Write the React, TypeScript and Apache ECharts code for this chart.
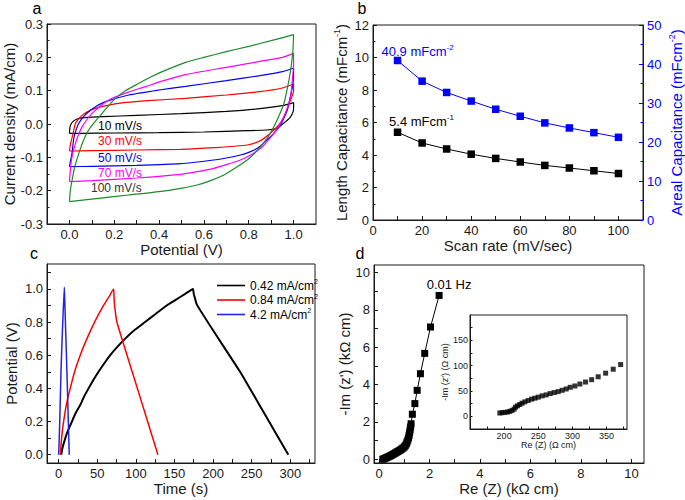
import React, { useEffect, useRef } from "react";
import * as echarts from "echarts";

const FONT = "'Liberation Sans', Arial, Helvetica, sans-serif";
const INK = "#1a1a1a";

// ---------- Panel a : cyclic voltammetry (Potential V, Current density mA/cm)
const cvNames = ["10 mV/s", "30 mV/s", "50 mV/s", "70 mV/s", "100 mV/s"];
const cvColors = ["#000000", "#ff0000", "#0000ff", "#ff00ff", "#1d8a2a"];
const cvLabelColors = ["#000000", "#ff0000", "#0000ff", "#ff00ff", "#333333"];
const cv10 = [
  [0, -0.028], [0.003, -0.008], [0.012, 0.005], [0.034, 0.015], [0.07, 0.019], [0.15, 0.022],
  [0.3, 0.026], [0.5, 0.031], [0.7, 0.038], [0.85, 0.046], [0.95, 0.055], [1.0, 0.064],
  [1.0, 0.05], [0.998, 0.037], [0.985, 0.02], [0.964, 0.007], [0.94, -0.006], [0.927, -0.013],
  [0.88, -0.018], [0.793, -0.02], [0.6, -0.024], [0.4, -0.026], [0.2, -0.027], [0.05, -0.028], [0, -0.028],
];
const cv30 = [
  [0, -0.081], [0.005, -0.06], [0.014, -0.035], [0.027, 0.002], [0.045, 0.018], [0.064, 0.03],
  [0.1, 0.043], [0.131, 0.05], [0.22, 0.062], [0.35, 0.07], [0.518, 0.077], [0.7, 0.087],
  [0.85, 0.097], [0.95, 0.108], [1.0, 0.12],
  [1.0, 0.1], [0.995, 0.087], [0.98, 0.06], [0.957, 0.022], [0.935, -0.002], [0.912, -0.018],
  [0.88, -0.037], [0.853, -0.05], [0.793, -0.063], [0.644, -0.071], [0.496, -0.076], [0.3, -0.078],
  [0.1, -0.08], [0, -0.081],
];
const cv50 = [
  [0, -0.128], [0.005, -0.11], [0.012, -0.085], [0.019, -0.045], [0.03, -0.017], [0.042, 0.002],
  [0.06, 0.02], [0.086, 0.037], [0.12, 0.053], [0.161, 0.067], [0.265, 0.087], [0.4, 0.102],
  [0.518, 0.113], [0.7, 0.13], [0.85, 0.145], [0.95, 0.157], [1.0, 0.168],
  [1.0, 0.14], [0.995, 0.112], [0.985, 0.08], [0.972, 0.042], [0.957, 0.018], [0.942, -0.003],
  [0.92, -0.022], [0.897, -0.038], [0.868, -0.056], [0.838, -0.073], [0.8, -0.085], [0.763, -0.093],
  [0.7, -0.102], [0.644, -0.108], [0.496, -0.119], [0.3, -0.124], [0.1, -0.127], [0, -0.128],
];
const cv70 = [
  [0, -0.173], [0.004, -0.14], [0.009, -0.108], [0.018, -0.08], [0.027, -0.058], [0.04, -0.033],
  [0.057, -0.008], [0.08, 0.015], [0.101, 0.032], [0.14, 0.055], [0.19, 0.077], [0.26, 0.095],
  [0.339, 0.112], [0.42, 0.13], [0.518, 0.148], [0.7, 0.17], [0.85, 0.188], [0.95, 0.2], [1.0, 0.212],
  [1.0, 0.18], [0.997, 0.152], [0.987, 0.082], [0.973, 0.05], [0.957, 0.022], [0.935, -0.005],
  [0.912, -0.028], [0.885, -0.05], [0.853, -0.073], [0.81, -0.092], [0.763, -0.108], [0.7, -0.122],
  [0.644, -0.133], [0.57, -0.143], [0.496, -0.151], [0.3, -0.162], [0.1, -0.17], [0, -0.173],
];
const cv100 = [
  [0, -0.233], [0.004, -0.2], [0.012, -0.168], [0.025, -0.125], [0.042, -0.088], [0.062, -0.05],
  [0.086, -0.018], [0.115, 0.008], [0.146, 0.032], [0.175, 0.055], [0.205, 0.077], [0.25, 0.1],
  [0.31, 0.122], [0.36, 0.14], [0.414, 0.157], [0.518, 0.185], [0.6, 0.2], [0.7, 0.217],
  [0.8, 0.233], [0.9, 0.25], [1.0, 0.268],
  [0.997, 0.22], [0.987, 0.162], [0.973, 0.11], [0.957, 0.062], [0.935, 0.025], [0.912, -0.008],
  [0.885, -0.04], [0.853, -0.068], [0.823, -0.09], [0.793, -0.108], [0.74, -0.132], [0.689, -0.153],
  [0.63, -0.17], [0.57, -0.183], [0.496, -0.193], [0.4, -0.203], [0.265, -0.213], [0.13, -0.223], [0, -0.233],
];
const cvData = [cv10, cv30, cv50, cv70, cv100];
const cvXTicks = [0, 0.1, 0.2, 0.3, 0.4, 0.5, 0.6, 0.7, 0.8, 0.9, 1.0];
const cvXLabels = [0, 0.2, 0.4, 0.6, 0.8, 1.0];

// ---------- Panel b : capacitance vs scan rate
const scanRates = [10, 20, 30, 40, 50, 60, 70, 80, 90, 100];
const lengthCap = [5.4, 4.74, 4.37, 4.05, 3.79, 3.57, 3.36, 3.2, 3.03, 2.86];
const arealCap = [40.9, 35.6, 32.7, 30.5, 28.4, 26.6, 24.9, 23.6, 22.4, 21.2];
const bXTicks = [0, 10, 20, 30, 40, 50, 60, 70, 80, 90, 100];
const bXLabels = [0, 20, 40, 60, 80, 100];

// ---------- Panel c : galvanostatic charge / discharge
const gcdNames = ["0.42 mA/cm2", "0.84 mA/cm2", "4.2 mA/cm2"];
const gcdColors = ["#000000", "#ff0000", "#2323e6"];
const gcd042 = [
  [3.5, 0], [5, 0.04], [8.7, 0.1], [12.5, 0.15], [17.3, 0.2], [22, 0.25], [28, 0.3], [33, 0.35],
  [38.8, 0.4], [45, 0.45], [51.7, 0.5], [59, 0.55], [66.9, 0.6], [76, 0.65], [86.3, 0.7], [98, 0.75],
  [112, 0.8], [126, 0.85], [140, 0.9], [152, 0.935], [164, 0.97], [173.9, 1.0],
  [175, 0.97], [176.5, 0.945], [179, 0.905], [200, 0.75], [235, 0.5], [265, 0.26], [297.5, 0],
];
const gcd084 = [
  [2.2, 0], [3.5, 0.08], [5, 0.15], [6.5, 0.2], [10, 0.3], [15.1, 0.4], [20.7, 0.5], [28, 0.6],
  [36.7, 0.7], [46.6, 0.8], [58.2, 0.9], [65, 0.95], [71.2, 1.0],
  [71.8, 0.95], [72.5, 0.9], [75.5, 0.8], [102, 0.4], [128.6, 0],
];
const gcd42 = [
  [0, 0], [0.5, 0.05], [1.5, 0.2], [3.1, 0.5], [5, 0.75], [7.4, 1.01], [8, 0.93], [10.8, 0.5], [13.8, 0],
];
const gcdData = [gcd042, gcd084, gcd42];
const cXTicks = [0, 25, 50, 75, 100, 125, 150, 175, 200, 225, 250, 275, 300, 325];
const cXLabels = [0, 50, 100, 150, 200, 250, 300];
const cYTicks = [0, 0.1, 0.2, 0.3, 0.4, 0.5, 0.6, 0.7, 0.8, 0.9, 1.0, 1.1];
const cYLabels = [0, 0.2, 0.4, 0.6, 0.8, 1.0];

// ---------- Panel d : Nyquist plot
const eisRe = [0.15, 0.2, 0.25, 0.3, 0.35, 0.4, 0.45, 0.5, 0.55, 0.6, 0.65, 0.7, 0.75, 0.8, 0.85, 0.9, 0.95, 1.0,
  1.04, 1.08, 1.11, 1.14, 1.17, 1.19, 1.21, 1.23, 1.25, 1.27, 1.32, 1.42, 1.51, 1.64, 1.81, 2.04, 2.38];
const eisIm = [0.0, 0.03, 0.06, 0.09, 0.12, 0.15, 0.19, 0.22, 0.26, 0.3, 0.34, 0.38, 0.42, 0.46, 0.5, 0.55, 0.6, 0.66,
  0.73, 0.82, 0.92, 1.03, 1.15, 1.28, 1.42, 1.57, 1.73, 1.9, 2.41, 2.98, 3.69, 4.58, 5.67, 7.08, 8.77];
const dTicks = [0, 1, 2, 3, 4, 5, 6, 7, 8, 9, 10];
const dLabels = [0, 2, 4, 6, 8, 10];
const insetRe = [193.7, 197, 201, 205, 208.4, 211.7, 214.7, 216.7, 219.6, 223, 226.4, 230.4, 235.2, 240.2, 245,
  249.9, 255.7, 261.6, 267.4, 273.3, 279.2, 285, 290.9, 296.8, 303.7, 311, 319.3, 328.2, 337.8, 348.7, 359.8, 370.7];
const insetIm = [6.6, 7.2, 7.8, 8.5, 9.8, 11.7, 14.3, 18.2, 20.8, 23.4, 26, 28.6, 31.2, 33.9, 35.8, 37.8, 40.4,
  42.3, 44.9, 46.9, 48.8, 51.4, 54, 57.3, 59.9, 63.8, 67.7, 72.3, 78.1, 85.2, 93, 102.2];
const insetXTicks = [175, 200, 225, 250, 275, 300, 325, 350, 375];
const insetXLabels = [200, 250, 300, 350];
const insetYTicks = [0, 25, 50, 75, 100, 125, 150, 175];
const insetYLabels = [0, 50, 100, 150];

// ---------- helpers
const supRich = (color: string, size: number) => ({
  t: { color, fontSize: size, fontFamily: FONT, lineHeight: size + 3 },
  s: { color, fontSize: Math.round(size * 0.62), fontFamily: FONT, verticalAlign: "top", lineHeight: Math.round(size * 0.62) + 1 },
});

function mkAxis(o: any) {
  const color = o.color || INK;
  const fs = o.fontSize || 13;
  const ns = o.nameSize || 15;
  return {
    type: "value",
    gridIndex: o.grid,
    min: o.min,
    max: o.max,
    interval: o.interval,
    position: o.position,
    name: o.name,
    nameLocation: "middle",
    nameGap: o.gap,
    nameTextStyle: { color, fontSize: ns, fontFamily: FONT, rich: supRich(color, ns) },
    axisLine: { show: true, onZero: false, lineStyle: { color, width: 1 } },
    axisTick: { show: true, inside: true, length: o.tickLen || 4, customValues: o.ticks, lineStyle: { color, width: 1 } },
    minorTick: o.minor ? { show: true, splitNumber: 2, length: 2.5, lineStyle: { color, width: 1 } } : { show: false },
    axisLabel: {
      show: true, customValues: o.labels, formatter: o.fmt, color, fontSize: fs, fontFamily: FONT, margin: o.margin || 4,
    },
    splitLine: { show: false },
  };
}

const gridBox = (left: number, top: number, width: number, height: number, bg = "transparent") => ({
  left, top, width, height, show: true, borderColor: INK, borderWidth: 1, backgroundColor: bg, containLabel: false,
});

const panelLetter = (t: string, x: number, y: number) => ({
  type: "text", x, y, style: { text: t, fill: "#000", fontSize: 16, fontFamily: FONT, align: "center", verticalAlign: "middle" },
});

const option: any = {
  animation: false,
  backgroundColor: "#ffffff",
  textStyle: { fontFamily: FONT },
  grid: [
    gridBox(47, 24, 269, 200),
    gridBox(373, 25, 270, 195),
    gridBox(47, 264, 268, 199),
    gridBox(374, 265, 270, 198),
    gridBox(470, 315, 157, 114, "#ffffff"),
  ],
  xAxis: [
    mkAxis({ grid: 0, min: -0.1, max: 1.1, ticks: cvXTicks, labels: cvXLabels, fmt: (v: number) => v.toFixed(1), name: "Potential (V)", gap: 16 }),
    mkAxis({ grid: 1, min: 0, max: 110, ticks: bXTicks, labels: bXLabels, fmt: (v: number) => String(v), name: "Scan rate (mV/sec)", gap: 16 }),
    mkAxis({ grid: 2, min: -15, max: 332, ticks: cXTicks, labels: cXLabels, fmt: (v: number) => String(v), name: "Time (s)", gap: 17 }),
    mkAxis({ grid: 3, min: -0.2, max: 10.5, ticks: dTicks, labels: dLabels, fmt: (v: number) => String(v), name: "Re (Z) (k\u03A9 cm)", gap: 17 }),
    mkAxis({ grid: 4, min: 150, max: 380, ticks: insetXTicks, labels: insetXLabels, fmt: (v: number) => String(v), name: "Re (Z) (\u03A9 cm)", gap: 9, fontSize: 9, nameSize: 9, tickLen: 2.5, margin: 2 }),
  ],
  yAxis: [
    mkAxis({ grid: 0, min: -0.3, max: 0.3, interval: 0.1, minor: true, fmt: (v: number) => v.toFixed(1), name: "Current density (mA/cm)", gap: 28 }),
    mkAxis({ grid: 1, min: 0, max: 12, interval: 2, minor: true, fmt: (v: number) => String(v), name: "{t|Length Capacitance (mFcm}{s|-1}{t|)}", gap: 23 }),
    mkAxis({ grid: 1, min: 0, max: 50, interval: 10, minor: true, position: "right", color: "#0000ff", fmt: (v: number) => String(v), name: "{t|Areal Capacitance (mFcm}{s|-2}{t|)}", gap: 24 }),
    mkAxis({ grid: 2, min: -0.05, max: 1.15, ticks: cYTicks, labels: cYLabels, fmt: (v: number) => v.toFixed(1), name: "Potential (V)", gap: 28 }),
    mkAxis({ grid: 3, min: -0.2, max: 10.4, ticks: dTicks, labels: dLabels, fmt: (v: number) => String(v), name: "-Im (z') (k\u03A9 cm)", gap: 16 }),
    mkAxis({ grid: 4, min: -25, max: 200, ticks: insetYTicks, labels: insetYLabels, fmt: (v: number) => String(v), name: "-Im (z') (\u03A9 cm)", gap: 17, fontSize: 9, nameSize: 9, tickLen: 2.5, margin: 2 }),
  ],
  legend: {
    show: true,
    data: gcdNames,
    orient: "vertical",
    left: 212,
    top: 273,
    icon: "rect",
    itemWidth: 28,
    itemHeight: 1.6,
    itemGap: 1,
    selectedMode: false,
    formatter: (n: string) => `{t|${n.slice(0, -1)}}{s|${n.slice(-1)}}`,
    textStyle: { color: "#000", fontSize: 12, fontFamily: FONT, rich: supRich("#000", 12) },
  },
  series: [
    ...cvData.map((d, i) => ({
      type: "line", name: cvNames[i], xAxisIndex: 0, yAxisIndex: 0, data: d, symbol: "none", smooth: 0.2,
      lineStyle: { color: cvColors[i], width: 1.2 }, itemStyle: { color: cvColors[i] }, silent: true, z: 3,
    })),
    {
      type: "line", name: "Length", xAxisIndex: 1, yAxisIndex: 1, symbol: "rect", symbolSize: 7.5, showAllSymbol: true,
      lineStyle: { color: "#000", width: 1 }, itemStyle: { color: "#000" }, silent: true,
      data: lengthCap.map((v, i) => i === 0 ? {
        value: [scanRates[i], v],
        label: { show: true, position: "top", distance: 0, offset: [24, 1], formatter: "{t|5.4 mFcm}{s|-1}", rich: supRich("#000", 13) },
      } : [scanRates[i], v]),
    },
    {
      type: "line", name: "Areal", xAxisIndex: 1, yAxisIndex: 2, symbol: "rect", symbolSize: 7.5, showAllSymbol: true,
      lineStyle: { color: "#0000ff", width: 1 }, itemStyle: { color: "#0000ff" }, silent: true,
      data: arealCap.map((v, i) => i === 0 ? {
        value: [scanRates[i], v],
        label: { show: true, position: "top", distance: 0, offset: [20, 3], formatter: "{t|40.9 mFcm}{s|-2}", rich: supRich("#0000ff", 13) },
      } : [scanRates[i], v]),
    },
    ...gcdData.map((d, i) => ({
      type: "line", name: gcdNames[i], xAxisIndex: 2, yAxisIndex: 3, data: d, symbol: "none", smooth: 0.15,
      lineStyle: { color: gcdColors[i], width: i === 0 ? 2 : 1.5 }, itemStyle: { color: gcdColors[i] }, silent: true,
    })),
    {
      type: "line", name: "EIS", xAxisIndex: 3, yAxisIndex: 4, symbol: "rect", symbolSize: 7, showAllSymbol: true,
      lineStyle: { color: "#000", width: 1 }, itemStyle: { color: "#000" }, silent: true,
      data: eisRe.map((r, i) => i === eisRe.length - 1 ? {
        value: [r, eisIm[i]],
        label: { show: true, position: "top", distance: 0, offset: [10, -1], formatter: "0.01 Hz", color: "#000", fontSize: 13, fontFamily: FONT },
      } : [r, eisIm[i]]),
    },
    {
      type: "scatter", name: "EIS inset", xAxisIndex: 4, yAxisIndex: 5, symbol: "rect", symbolSize: 5,
      itemStyle: { color: "#000" }, silent: true, z: 5,
      data: insetRe.map((r, i) => [r, insetIm[i]]),
    },
  ],
  graphic: [
    panelLetter("a", 37, 8),
    panelLetter("b", 362, 8),
    panelLetter("c", 34, 253),
    panelLetter("d", 360, 253),
    ...cvNames.map((n, i) => ({
      type: "text", x: i === 4 ? 91 : 98, y: [125.7, 141, 157.5, 172.8, 188][i],
      style: { text: n, fill: cvLabelColors[i], fontSize: 12, fontFamily: FONT, align: "left", verticalAlign: "middle" },
      z: 10,
    })),
  ],
};

export default function App() {
  const ref = useRef<HTMLDivElement>(null);
  useEffect(() => {
    const chart = echarts.init(ref.current!, null, { renderer: "svg" });
    chart.setOption(option);
    return () => chart.dispose();
  }, []);
  return <div ref={ref} style={{ position: "absolute", left: 0, top: 0, width: 685, height: 500, background: "#fff" }} />;
}
